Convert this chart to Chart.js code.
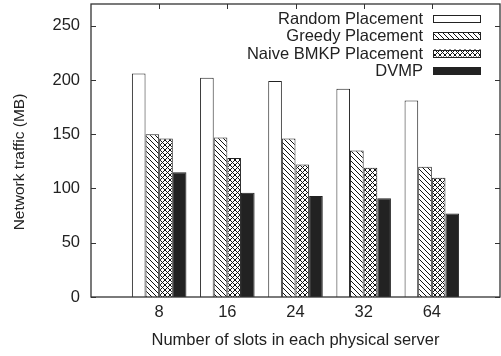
<!DOCTYPE html>
<html>
<head>
<meta charset="utf-8">
<script src="https://cdn.jsdelivr.net/npm/chart.js@4.4.0/dist/chart.umd.min.js"></script>
<style>
  html, body { margin: 0; padding: 0; background: #fff; }
</style>
</head>
<body>
<canvas id="chart" width="501" height="356"></canvas>
<script>
// data
const slots = ['8', '16', '24', '32', '64'];
const randomPlacement = [206, 202, 199, 192, 181];
const greedyPlacement = [150, 147, 146, 135, 120];
const naiveBmkpPlacement = [146, 128, 122, 119, 110];
const dvmpPlacement = [115, 96, 93, 91, 77];
const yTicks = [0, 50, 100, 150, 200, 250];

const FONT = '"Liberation Sans", Arial, Helvetica, sans-serif';
const INK = '#222';

const canvas = document.getElementById('chart');
const ctx = canvas.getContext('2d');

// hatch fills, 5px tiles like the gnuplot patterns
function hatch(cross) {
    const t = document.createElement('canvas');
    t.width = 5; t.height = 5;
    const g = t.getContext('2d');
    g.fillStyle = '#fff';
    g.fillRect(0, 0, 5, 5);
    g.strokeStyle = '#111';
    g.lineWidth = 1;
    g.beginPath();
    g.moveTo(-1, -1); g.lineTo(6, 6);
    g.moveTo(-1, 4); g.lineTo(1, 6);
    g.moveTo(4, -1); g.lineTo(6, 1);
    if (cross) {
        g.moveTo(-1, 6); g.lineTo(6, -1);
        g.moveTo(-1, 1); g.lineTo(1, -1);
        g.moveTo(4, 6); g.lineTo(6, 4);
    }
    g.stroke();
    return ctx.createPattern(t, 'repeat');
}

// empty slot on each side, like xrange [-1:5]
const labels = [''].concat(slots, ['']);
function pad(arr) { return [null].concat(arr, [null]); }

const frame = {
    id: 'frame',
    afterDatasetsDraw(chart) {
        const a = chart.chartArea;
        const c = chart.ctx;
        const x = chart.scales.x, y = chart.scales.y;
        c.save();
        c.strokeStyle = '#333';
        c.lineWidth = 1.3;
        c.strokeRect(a.left, a.top, a.right - a.left, a.bottom - a.top);
        c.beginPath();
        yTicks.forEach(v => {
            const py = Math.round(y.getPixelForValue(v)) + 0.5;
            c.moveTo(a.left, py); c.lineTo(a.left + 5, py);
            c.moveTo(a.right, py); c.lineTo(a.right - 5, py);
        });
        slots.forEach((s, i) => {
            const px = Math.round(x.getPixelForValue(i + 1)) + 0.5;
            c.moveTo(px, a.top); c.lineTo(px, a.top + 5);
        });
        c.lineWidth = 1;
        c.stroke();

        // y axis title, sits a bit below the plot middle in the original
        c.translate(20, 162);
        c.rotate(-Math.PI / 2);
        c.font = '15.5px ' + FONT;
        c.fillStyle = INK;
        c.textAlign = 'center';
        c.textBaseline = 'middle';
        c.fillText('Network traffic (MB)', 0, 0);
        c.restore();
    }
};

const boxLegend = {
    id: 'boxLegend',
    afterDatasetsDraw(chart) {
        const a = chart.chartArea;
        const c = chart.ctx;
        c.save();
        c.font = '16.5px ' + FONT;
        c.textAlign = 'right';
        c.textBaseline = 'middle';
        chart.data.datasets.forEach((ds, i) => {
            const cy = a.top + 14 + i * 17.5;
            const bx = a.right - 67;
            c.fillStyle = INK;
            c.fillText(ds.label, bx - 10, cy + 1);
            c.fillStyle = ds.backgroundColor;
            c.fillRect(bx, cy - 3.5, 48, 7);
            c.strokeStyle = '#222';
            c.lineWidth = 1;
            c.strokeRect(bx + 0.5, Math.round(cy - 3.5) + 0.5, 47, 7);
        });
        c.restore();
    }
};

new Chart(canvas, {
    type: 'bar',
    data: {
        labels: labels,
        datasets: [
            { label: 'Random Placement', data: pad(randomPlacement), backgroundColor: '#fff' },
            { label: 'Greedy Placement', data: pad(greedyPlacement), backgroundColor: hatch(false) },
            { label: 'Naive BMKP Placement', data: pad(naiveBmkpPlacement), backgroundColor: hatch(true) },
            { label: 'DVMP', data: pad(dvmpPlacement), backgroundColor: '#222' }
        ]
    },
    options: {
        responsive: false,
        animation: false,
        devicePixelRatio: 1,
        layout: { padding: { top: 4, right: 1, left: 0, bottom: 0 } },
        datasets: {
            bar: {
                borderColor: '#222',
                borderWidth: 1,
                categoryPercentage: 0.8,
                barPercentage: 1.0
            }
        },
        plugins: {
            legend: { display: false },
            tooltip: { enabled: false }
        },
        scales: {
            x: {
                type: 'category',
                offset: false,
                grid: { display: false, drawTicks: false },
                border: { display: false },
                ticks: {
                    color: INK, padding: 6, maxRotation: 0, autoSkip: false,
                    font: { family: FONT, size: 16.5 }
                },
                title: {
                    display: true,
                    text: 'Number of slots in each physical server',
                    color: INK,
                    font: { family: FONT, size: 16.5 },
                    padding: { top: 0, bottom: 6 }
                },
                afterFit(s) {
                    s.height = 59;
                    s.paddingLeft = 0;
                    s.paddingRight = 0;
                }
            },
            y: {
                min: 0,
                max: 270,
                grid: { display: false, drawTicks: false },
                border: { display: false },
                afterBuildTicks(s) { s.ticks = yTicks.map(v => ({ value: v })); },
                ticks: {
                    color: INK, padding: 11,
                    font: { family: FONT, size: 16.5 }
                },
                afterFit(s) {
                    s.width = 91;
                    s.paddingTop = 0;
                    s.paddingBottom = 0;
                }
            }
        }
    },
    plugins: [frame, boxLegend]
});
</script>
</body>
</html>
